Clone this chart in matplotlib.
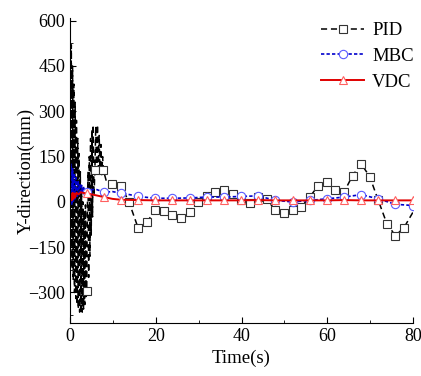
import numpy as np
import matplotlib.pyplot as plt
from matplotlib.ticker import MultipleLocator

plt.rcParams['font.family'] = ['Liberation Serif', 'DejaVu Serif']

# PID: 前段高频振荡 + 后段慢变
pid_t = [0.0, 0.15, 0.3, 0.45, 0.6, 0.75, 0.9, 1.05, 1.2, 1.35, 1.5, 1.65, 1.8, 1.95,
         2.1, 2.25, 2.4, 2.55, 2.7, 2.85, 3.0, 3.15, 3.3, 3.45, 3.6, 3.75, 3.9,
         4.05, 4.2, 4.35, 4.5, 4.65, 4.8, 4.95, 5.1, 5.25, 5.4, 5.6, 5.8, 6.0,
         6.2, 6.4, 6.6, 6.8, 7.0, 7.2, 7.4, 7.6, 7.8, 8.6, 9.9, 11.9, 13.8, 15.9,
         17.9, 19.9, 21.9, 23.9, 25.9, 27.9, 29.9, 31.9, 33.9, 35.9, 37.9, 39.9,
         41.9, 43.9, 45.9, 47.9, 49.9, 51.9, 53.9, 55.9, 57.9, 59.9, 61.9, 63.9,
         65.9, 67.9, 69.9, 71.9, 73.9, 75.9, 77.9, 80.0]
pid_y = [600, -150, 520, -220, 450, -260, 390, -300, 330, -320, 270, -340, 210, -355,
         160, -365, 100, -370, 50, -365, 0, -355, -30, -340, -10, -320, -294,
         -20, 100, -250, 150, -180, 210, -110, 240, -50, 255, 20, 104, 250,
         90, 255, 110, 220, 95, 190, 90, 150, 104, 62, 58, 54, -2, -87,
         -67, -28, -31, -44, -54, -35, 0, 21, 32, 38, 25, 5,
         -4, 16, 9, -28, -36, -28, -17, 16, 54, 65, 40, 32,
         87, 126, 84, 5, -72, -112, -85, -34]
pid_marks = [3.9, 5.8, 7.8, 9.9, 11.9, 13.8, 15.9, 17.9, 19.9, 21.9, 23.9, 25.9, 27.9,
             29.9, 31.9, 33.9, 35.9, 37.9, 39.9, 41.9, 43.9, 45.9, 47.9, 49.9, 51.9,
             53.9, 55.9, 57.9, 59.9, 61.9, 63.9, 65.9, 67.9, 69.9, 71.9, 73.9, 75.9, 77.9]

# MBC
mbc_t = [0.0, 0.2, 0.4, 0.6, 0.8, 1.0, 1.2, 1.4, 1.6, 1.9, 2.1, 2.3, 2.5, 2.7, 2.9,
         3.1, 3.5, 3.9, 5.0, 6.0, 7.9, 9.9, 11.9, 13.9, 15.9, 19.9, 23.9, 27.9,
         31.9, 35.9, 39.9, 43.9, 47.9, 51.9, 55.9, 59.9, 63.9, 67.9, 71.9, 75.9, 80.0]
mbc_y = [60, 125, -10, 110, 0, 95, 10, 80, 15, 70, 20, 60, 25, 55, 30,
         50, 35, 34, 40, 42, 32, 34, 29, 24, 18, 12, 12, 13,
         16, 16, 18, 20, 5, 0, 5, 10, 16, 24, 10, -8, -12]
# VDC
vdc_t = [0.0, 0.2, 0.4, 0.6, 0.8, 1.0, 1.2, 1.5, 2.0, 2.5, 3.0, 3.9, 5.0, 6.0,
         7.9, 9.9, 11.9, 15.9, 19.9, 23.9, 27.9, 31.9, 35.9, 39.9, 43.9, 47.9,
         51.9, 55.9, 59.9, 63.9, 67.9, 71.9, 75.9, 80.0]
vdc_y = [10, 25, 5, 30, 10, 28, 15, 30, 25, 32, 30, 28, 25, 22,
         16, 10, 7, 6, 5, 5, 5, 5, 5, 5, 6, 5,
         5, 5, 5, 6, 5, 5, 5, 5]
slow_marks = [3.9, 7.9, 11.9, 15.9, 19.9, 23.9, 27.9, 31.9, 35.9, 39.9, 43.9, 47.9,
              51.9, 55.9, 59.9, 63.9, 67.9, 71.9, 75.9, 80.0]


def mark_idx(t, marks):
    return [i for i, v in enumerate(t) if any(abs(v - m) < 1e-6 for m in marks)]


fig = plt.figure(figsize=(4.21, 3.76), dpi=100)
ax = fig.add_axes([0.1663, 0.1418, 0.8147, 0.8096])

ax.plot(pid_t, pid_y, color='black', lw=1.1, ls=(0, (4, 2.5)),
        marker='s', ms=5.3, mfc='white', mec='#333333', mew=0.8,
        markevery=mark_idx(pid_t, pid_marks), label='PID')
ax.plot(mbc_t, mbc_y, color='#0000cc', lw=1.2, ls=(0, (2, 1.3)),
        marker='o', ms=6, mfc='white', mec='#5a5aff', mew=0.8,
        markevery=mark_idx(mbc_t, slow_marks), label='MBC')
ax.plot(vdc_t, vdc_y, color='#e00000', lw=1.4, ls='-',
        marker='^', ms=6.3, mfc='white', mec='#ff6060', mew=0.8,
        markevery=mark_idx(vdc_t, slow_marks), label='VDC')

ax.set_xlim(0, 80)
ax.set_ylim(-400, 608)
ax.xaxis.set_major_locator(MultipleLocator(20))
ax.xaxis.set_minor_locator(MultipleLocator(10))
ax.yaxis.set_major_locator(MultipleLocator(150))
ax.yaxis.set_minor_locator(MultipleLocator(75))
ax.tick_params(which='both', direction='in', labelsize=13)
ax.tick_params(which='major', length=4)
ax.tick_params(which='minor', length=2.5)
ax.spines['top'].set_visible(False)
ax.spines['right'].set_visible(False)

ax.set_xlabel('Time(s)', fontsize=13.5, labelpad=4)
ax.set_ylabel('Y-direction(mm)', fontsize=13.5, labelpad=-5)
ax.legend(loc='upper right', frameon=False, fontsize=13.5, handlelength=2.3,
          handletextpad=0.4, labelspacing=0.45, borderaxespad=0.3,
          bbox_to_anchor=(1.04, 1.03))

fig.savefig('out.png', dpi=100)
